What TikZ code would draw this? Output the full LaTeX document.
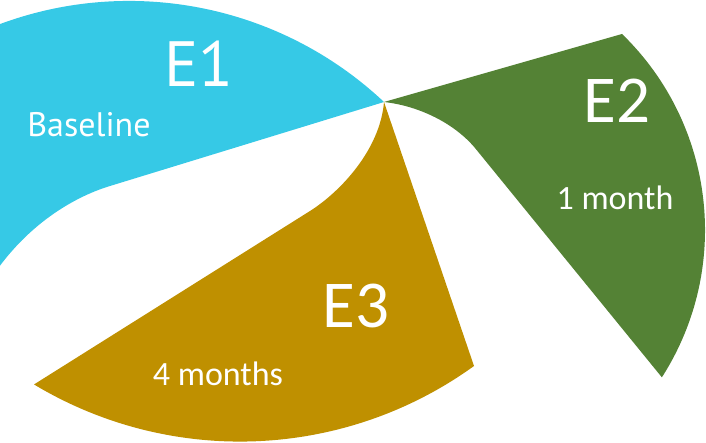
\documentclass[tikz,border=0pt]{standalone}
\usepackage{fontspec}
\setmainfont{PT Sans}
\newfontfamily\calibrifont{Carlito}
\definecolor{eonecyan}{RGB}{54,201,230}
\definecolor{etwogreen}{RGB}{84,130,53}
\definecolor{ethreegold}{RGB}{191,144,0}
\tikzset{
  bigtag/.style={text=white, anchor=base, inner sep=0pt, font=\fontsize{64}{64}\selectfont},
  smalltag/.style={text=white, anchor=base, inner sep=0pt, font=\fontsize{34}{34}\selectfont},
  calibri/.style={font=\calibrifont\fontsize{#1}{#1}\selectfont}
}
\begin{document}
\begin{tikzpicture}[x=1pt, y=-1pt]
    \useasboundingbox (0,0) rectangle (706,443);
    \clip (0,0) rectangle (706,443);
    \coordinate (c) at (384,102);
    % E1 (cyan wedge)
    \fill[eonecyan] (c) arc[start angle=-46.75, end angle=-115, radius=372] -- (-28,290) -- (-8,277)
        .. controls (30,220) and (80,195) .. (110,186) -- cycle;
    % E2 (green wedge)
    \fill[etwogreen] (c) -- (622,34) arc[start angle=-45.9, end angle=32.65, radius=273] -- (475,148)
        .. controls (455,124) and (420,106) .. (c) -- cycle;
    % E3 (gold wedge)
    \fill[ethreegold] (c) -- (474,366) arc[start angle=54.2, end angle=121, radius=400] -- (310,211)
        .. controls (340,192) and (380,150) .. (c) -- cycle;
    % Labels
    \node[bigtag] (e1) at (199,87) {E1};
    \node[smalltag] (base) at (89,137) {Baseline};
    \node[bigtag, calibri=67] (e2) at (617,123) {E2};
    \node[smalltag, calibri=34] (mon1) at (615,210) {1 month};
    \node[bigtag, calibri=67] (e3) at (356,327) {E3};
    \node[smalltag, calibri=34] (mon4) at (218,385) {4 months};
\end{tikzpicture}
\end{document}
